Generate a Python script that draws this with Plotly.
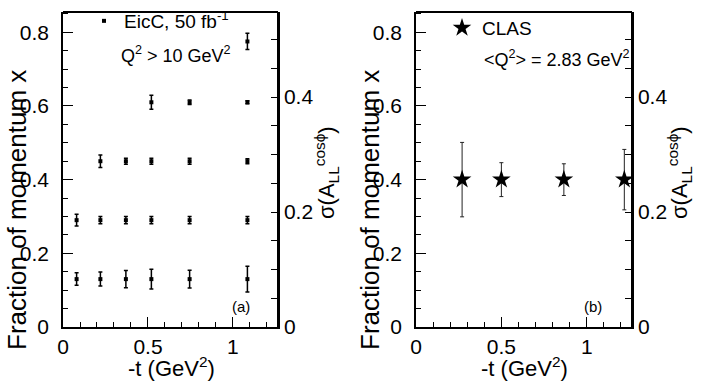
import plotly.graph_objects as go

# EicC projection: -t bins and momentum-fraction rows
t_bins = [0.08, 0.22, 0.37, 0.52, 0.745, 1.085]
x_rows = [0.13, 0.29, 0.45, 0.61, 0.775]
# uncertainty per row (None = no point in that bin)
err_rows = [
    [0.017, 0.019, 0.0235, 0.027, 0.024, 0.035],
    [0.016, 0.010, 0.010, 0.010, 0.010, 0.010],
    [None, 0.017, 0.008, 0.008, 0.008, 0.007],
    [None, None, None, 0.019, 0.006, 0.004],
    [None, None, None, None, None, 0.022],
]

# CLAS points
clas_t = [0.27, 0.50, 0.866, 1.22]
clas_x = [0.40, 0.40, 0.40, 0.40]
clas_err = [0.101, 0.046, 0.043, 0.082]

# right-hand sigma axis ticks
sigma_ticks = [0, 0.05, 0.1, 0.15, 0.2, 0.25, 0.3, 0.35, 0.4, 0.45, 0.5]
sigma_labels = ["0", "", "", "", "0.2", "", "", "", "0.4", "", ""]

W, H = 706, 385
FONT = "Liberation Sans, Arial, sans-serif"


def px(v):
    return v / W


def py(v):
    return 1 - v / H


eicc_t, eicc_x, eicc_err = [], [], []
for xv, errs in zip(x_rows, err_rows):
    for tv, e in zip(t_bins, errs):
        if e is None:
            continue
        eicc_t.append(tv)
        eicc_x.append(xv)
        eicc_err.append(e)

fig = go.Figure()
fig.add_trace(go.Scatter(
    x=eicc_t, y=eicc_x, mode="markers", name="EicC, 50 fb<sup>-1</sup>",
    marker=dict(symbol="square", size=4, color="black"),
    error_y=dict(type="data", array=eicc_err, color="black", thickness=1.5, width=2),
    xaxis="x", yaxis="y", legend="legend", showlegend=True,
))
fig.add_trace(go.Scatter(
    x=clas_t, y=clas_x, mode="markers", name="CLAS",
    marker=dict(symbol="star", size=14, color="black"),
    error_y=dict(type="data", array=clas_err, color="#222", thickness=1, width=2),
    xaxis="x2", yaxis="y3", legend="legend2", showlegend=True,
))
# empty traces so the right-hand sigma axes get drawn
for xs, ys in (("x", "y2"), ("x2", "y4")):
    fig.add_trace(go.Scatter(x=[], y=[], mode="markers", xaxis=xs, yaxis=ys,
                             showlegend=False, hoverinfo="skip"))

panels = [(63, 278), (416, 632)]
ytop, ybot = 12, 327
ydom = [py(ybot), py(ytop)]

axis_common = dict(
    showline=True, linecolor="black", linewidth=1.5, ticks="inside", tickcolor="black",
    tickwidth=1, showgrid=False, zeroline=False, automargin=False,
    tickfont=dict(family=FONT, size=21, color="black"),
)

layout = dict(
    width=W, height=H, margin=dict(l=0, r=0, t=0, b=0, autoexpand=False),
    paper_bgcolor="white", plot_bgcolor="white", showlegend=True,
    font=dict(family=FONT, color="black"),
)
shapes = []
for i, (x0, x1) in enumerate(panels):
    xa = "xaxis" if i == 0 else "xaxis2"
    ya = "yaxis" if i == 0 else "yaxis3"
    yb = "yaxis2" if i == 0 else "yaxis4"
    xs = "x" if i == 0 else "x2"
    ys = "y" if i == 0 else "y3"
    layout[xa] = dict(
        axis_common, domain=[px(x0), px(x1)], range=[0, 1.265], anchor=ys,
        tickvals=[0, 0.5, 1], ticktext=["0", "0.5", "1"], ticklen=10,
        minor=dict(dtick=0.1, tick0=0, ticks="inside", ticklen=5, tickcolor="black"),
    )
    layout[ya] = dict(
        axis_common, domain=ydom, range=[0, 0.855], anchor=xs, ticklabelstandoff=8,
        tickvals=[0, 0.2, 0.4, 0.6, 0.8], ticktext=["0", "0.2", "0.4", "0.6", "0.8"],
        ticklen=10,
        minor=dict(dtick=0.05, tick0=0, ticks="inside", ticklen=5, tickcolor="black"),
    )
    layout[yb] = dict(
        axis_common, overlaying=ys, side="right", anchor=xs, range=[0, 0.548],
        tickvals=sigma_ticks, ticktext=sigma_labels, ticklen=7,
    )
    # top and right frame edges as separate lines in page coordinates
    shapes.append(dict(type="line", xref="paper", yref="paper",
                       x0=px(x0), x1=px(x1), y0=py(ytop), y1=py(ytop), layer="above",
                       line=dict(color="black", width=2)))
    shapes.append(dict(type="line", xref="paper", yref="paper",
                       x0=px(x1), x1=px(x1), y0=py(ybot), y1=py(ytop), layer="above",
                       line=dict(color="black", width=2)))
layout["shapes"] = shapes

layout["legend"] = dict(
    x=px(84), y=py(2), xanchor="left", yanchor="top", bgcolor="rgba(0,0,0,0)",
    font=dict(family=FONT, size=19, color="black"),
)
layout["legend2"] = dict(
    x=px(442), y=py(9), xanchor="left", yanchor="top", bgcolor="rgba(0,0,0,0)",
    font=dict(family=FONT, size=19, color="black"),
)
fig.update_layout(**layout)

anns = []
for dx in (0, 353):
    anns.append(dict(text="Fraction of momentum x", x=px(17 + dx), y=py(210), textangle=-90,
                     font=dict(size=26)))
    anns.append(dict(text="-t (GeV<sup>2</sup>)", x=px(171 + dx), y=py(383),
                     yanchor="bottom", font=dict(size=22)))
    anns.append(dict(text="σ(A<sub>LL</sub><sup>cosϕ</sup>)", x=px(326 + dx), y=py(173),
                     textangle=-90, font=dict(size=22)))
anns.append(dict(text="Q<sup>2</sup> > 10 GeV<sup>2</sup>", x=px(119), y=py(55),
                 xanchor="left", font=dict(size=18)))
anns.append(dict(text="<Q<sup>2</sup>> = 2.83 GeV<sup>2</sup>", x=px(482), y=py(58),
                 xanchor="left", font=dict(size=18)))
anns.append(dict(text="(a)", x=px(241), y=py(306), font=dict(size=15)))
anns.append(dict(text="(b)", x=px(593), y=py(306), font=dict(size=15)))
for a in anns:
    a.setdefault("xanchor", "center")
    a.setdefault("yanchor", "middle")
    a.update(xref="paper", yref="paper", showarrow=False)
    a["font"] = dict(family=FONT, color="black", **a["font"])
fig.update_layout(annotations=anns)

# the page body has a default 8px margin; drop it so the figure sits at 0,0
fig.write_html("out.html", config={"displayModeBar": False},
               post_script="document.body.style.margin='0';")
